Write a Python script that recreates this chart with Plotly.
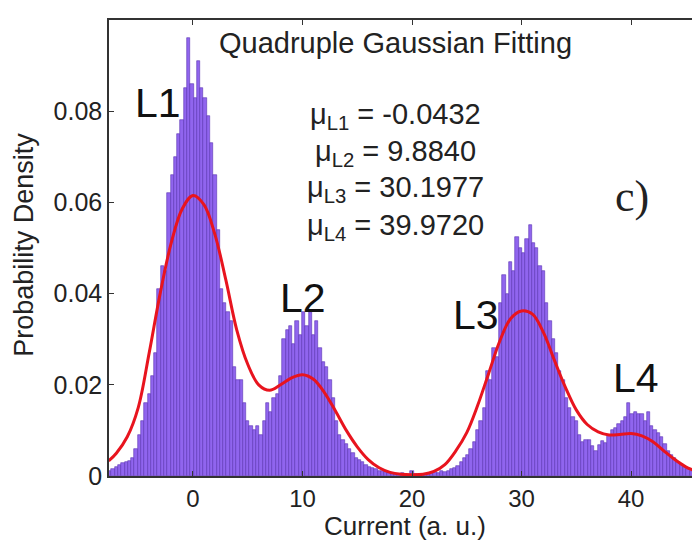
import numpy as np
import plotly.graph_objects as go

# histogram bins (centers every 0.3 from -7.6 to 46.4)
bin_first = -7.6
bin_width = 0.3

heights_l1 = [
    0.0010, 0.0015, 0.0020, 0.0025, 0.0028, 0.0030, 0.0032, 0.0040, 0.0060, 0.0090,
    0.0120, 0.0160, 0.0180, 0.0220, 0.0270, 0.0410, 0.0460, 0.0450, 0.0620, 0.0660,
    0.0700, 0.0750, 0.0780, 0.0850, 0.0960, 0.0860, 0.0830, 0.0910, 0.0850, 0.0830,
    0.0790, 0.0730, 0.0660, 0.0540, 0.0410, 0.0380, 0.0360, 0.0340, 0.0240, 0.0210,
]
heights_l2 = [
    0.0210, 0.0160, 0.0120, 0.0110, 0.0100, 0.0110, 0.0090, 0.0120, 0.0160, 0.0140,
    0.0170, 0.0180, 0.0220, 0.0300, 0.0320, 0.0330, 0.0290, 0.0340, 0.0310, 0.0360,
    0.0330, 0.0360, 0.0310, 0.0340, 0.0280, 0.0250, 0.0240, 0.0210, 0.0170, 0.0120,
    0.0090, 0.0080, 0.0070, 0.0060, 0.0050, 0.0040, 0.0035, 0.0030, 0.0025, 0.0020,
]
heights_gap = [
    0.0018, 0.0015, 0.0010, 0.0012, 0.0008, 0.0006, 0.0005, 0.0005, 0.0004, 0.0006,
    0.0004, 0.0003, 0.0012, 0.0004, 0.0003, 0.0004, 0.0005, 0.0004, 0.0006, 0.0008,
    0.0006, 0.0010, 0.0008, 0.0012, 0.0015, 0.0018, 0.0022, 0.0030, 0.0040, 0.0045,
]
heights_l3 = [
    0.0060, 0.0075, 0.0100, 0.0120, 0.0150, 0.0230, 0.0210, 0.0280, 0.0260, 0.0380,
    0.0440, 0.0400, 0.0470, 0.0450, 0.0525, 0.0500, 0.0490, 0.0520, 0.0550, 0.0510,
    0.0500, 0.0460, 0.0450, 0.0380, 0.0340, 0.0300, 0.0270, 0.0230, 0.0210, 0.0170,
    0.0150, 0.0130, 0.0120, 0.0090, 0.0075, 0.0080, 0.0078, 0.0065, 0.0055, 0.0068,
]
heights_l4 = [
    0.0077, 0.0072, 0.0090, 0.0100, 0.0105, 0.0115, 0.0120, 0.0130, 0.0160, 0.0135,
    0.0140, 0.0135, 0.0137, 0.0120, 0.0140, 0.0110, 0.0100, 0.0095, 0.0085, 0.0070,
    0.0055, 0.0045, 0.0040, 0.0030, 0.0027, 0.0020, 0.0015, 0.0010, 0.0008, 0.0006,
    0.0005,
]

fit_x = [-7.7, -7, -6, -5, -4, -3, -2, -1, 0, 1, 2, 3, 4, 5, 6, 7, 8, 9, 10, 11,
         12, 13, 14, 15, 16, 17, 18, 19, 20, 21, 22, 23, 24, 25, 26, 27, 28, 29,
         30, 31, 32, 33, 34, 35, 36, 37, 38, 39, 40, 41, 42, 43, 44, 45, 46, 46.5]
fit_y = [0.0033, 0.0050, 0.0086, 0.0150, 0.0270, 0.0400, 0.0510, 0.0585, 0.0615,
         0.0595, 0.0530, 0.0430, 0.0320, 0.0245, 0.0200, 0.0188, 0.0200, 0.0215,
         0.0222, 0.0212, 0.0183, 0.0143, 0.0100, 0.0064, 0.0036, 0.0018, 0.0008,
         0.0004, 0.0003, 0.0004, 0.0010, 0.0025, 0.0055, 0.0095, 0.0155, 0.0225,
         0.0295, 0.0345, 0.0362, 0.0355, 0.0315, 0.0254, 0.0195, 0.0145, 0.0113,
         0.0097, 0.0090, 0.0091, 0.0093, 0.0088, 0.0075, 0.0055, 0.0036, 0.0020,
         0.0010, 0.0006]

mu_labels = ["μ<sub>L1</sub> = -0.0432", "μ<sub>L2</sub> = 9.8840",
             "μ<sub>L3</sub> = 30.1977", "μ<sub>L4</sub> = 39.9720"]
peak_labels = ["L1", "L2", "L3", "L4"]

heights = heights_l1 + heights_l2 + heights_gap + heights_l3 + heights_l4
centers = bin_first + bin_width * np.arange(len(heights))

font = "Liberation Sans, Arial, sans-serif"

fig = go.Figure()
fig.add_trace(
    go.Bar(
        x=centers,
        y=heights,
        width=bin_width,
        marker=dict(color="#9065ee", line=dict(color="#5a32b4", width=0.6)),
        showlegend=False,
    )
)
fig.add_trace(
    go.Scatter(
        x=fit_x,
        y=fit_y,
        mode="lines",
        line=dict(color="#e8141e", width=3, shape="spline", smoothing=1),
        showlegend=False,
    )
)

# page body has an 8px margin, so the figure is sized to fit what is left
fig.update_layout(
    width=692,
    height=533,
    margin=dict(l=101, r=0, t=12, b=65, autoexpand=False),
    plot_bgcolor="white",
    paper_bgcolor="white",
    bargap=0,
    font=dict(family=font, color="#222"),
)
fig.update_xaxes(
    range=[-7.67, 46.3],
    tickvals=[0, 10, 20, 30, 40],
    ticks="inside",
    ticklen=5,
    tickcolor="#333",
    showline=True,
    linecolor="#333",
    linewidth=1.5,
    mirror="ticks",
    showgrid=False,
    zeroline=False,
    automargin=False,
    tickfont=dict(size=24),
)
fig.update_yaxes(
    range=[0, 0.1],
    tickvals=[0, 0.02, 0.04, 0.06, 0.08, 0.1],
    ticktext=["0", "0.02", "0.04", "0.06", "0.08", "0.1"],
    ticks="inside",
    ticklen=5,
    tickcolor="#333",
    showline=True,
    linecolor="#333",
    linewidth=1.5,
    showgrid=False,
    zeroline=False,
    automargin=False,
    tickfont=dict(size=25),
)

# axis titles
fig.add_annotation(x=0.5, y=0, xref="paper", yref="paper", xanchor="center",
                   yanchor="top", yshift=-33, text="Current (a. u.)", showarrow=False,
                   font=dict(size=26, color="#222"))
fig.add_annotation(x=0, y=0.507, xref="paper", yref="paper", xanchor="center",
                   yanchor="middle", xshift=-85, textangle=-90,
                   text="Probability Density", showarrow=False,
                   font=dict(size=27, color="#222"))

fig.add_annotation(x=18.5, y=0.0949, text="Quadruple Gaussian Fitting", showarrow=False,
                   font=dict(size=29, color="#222"))
mu_y = [0.0790, 0.0708, 0.0629, 0.0547]
for txt, yy in zip(mu_labels, mu_y):
    fig.add_annotation(x=18.5, y=yy, text=txt, showarrow=False,
                       font=dict(size=29, color="#222"))

peak_x = [-3.2, 10.0, 25.8, 40.5]
peak_y = [0.0817, 0.0390, 0.0353, 0.0214]
for txt, xx, yy in zip(peak_labels, peak_x, peak_y):
    fig.add_annotation(x=xx, y=yy, text=txt, showarrow=False,
                       font=dict(size=41, color="#111"))

fig.add_annotation(x=40.1, y=0.0614, text="c)", showarrow=False,
                   font=dict(size=44, family="Liberation Serif, Times New Roman, serif",
                             color="#222"))

fig.write_html("out.html")
